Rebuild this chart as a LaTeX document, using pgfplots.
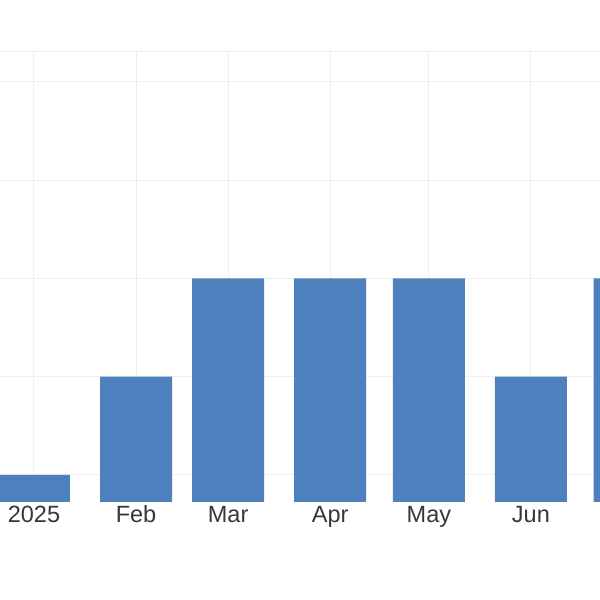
\documentclass[border=0pt]{standalone}
\usepackage{pgfplots}
\pgfplotsset{compat=1.18}
\usepackage{fontspec}
\setmainfont{Liberation Sans}
\definecolor{barblue}{RGB}{78,128,189}
\definecolor{gridc}{RGB}{238,238,238}
\definecolor{labc}{RGB}{55,55,55}
\begin{document}
\begin{tikzpicture}
\useasboundingbox (0,0) rectangle (600bp,600bp);
\begin{axis}[
  at={(0bp,98bp)}, anchor=south west,
  scale only axis, width=600bp, height=450bp,
  xmin=-10.33, xmax=172.0,
  ymin=0.725, ymax=5.305,
  axis line style={draw=none},
  xtick={0,31,59,90,120,151,181},
  xticklabels={2025,Feb,Mar,Apr,May,Jun,Jul},
  ytick={1,2,3,4,5,5.305},
  yticklabels={},
  major tick length=0pt,
  xmajorgrids, ymajorgrids,
  grid style={draw=gridc, line width=1bp},
  tick label style={font=\fontsize{23.5bp}{28bp}\selectfont, text=labc},
  xticklabel style={anchor=base, yshift=-21bp, inner sep=0pt},
  ybar, bar width=72bp,
]
\addplot[fill=barblue, draw=none] coordinates {
 (0,1) (31,2) (59,3) (90,3) (120,3) (151,2) (181,3)
};
\end{axis}
\end{tikzpicture}
\end{document}
